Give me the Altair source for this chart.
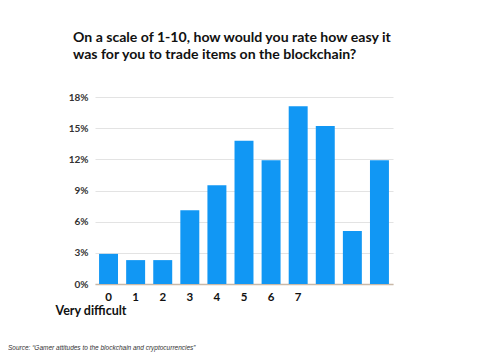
import altair as alt
import pandas as pd

ratings = [0, 1, 2, 3, 4, 5, 6, 7, 8, 9, 10]
shares = [2.9, 2.3, 2.3, 7.1, 9.5, 13.8, 11.9, 17.1, 15.2, 5.1, 11.9]
shown_labels = [0, 1, 2, 3, 4, 5, 6, 7]
y_ticks = [0, 3, 6, 9, 12, 15, 18]
title_lines = ["On a scale of 1-10, how would you rate how easy it",
               "was for you to trade items on the blockchain?"]
x_title = "Very difficult"
source_text = ["Source:  \u201cGamer attitudes to the blockchain and cryptocurrencies\u201d"]

df = pd.DataFrame({"rating": ratings, "share": shares})

bars = alt.Chart(df).mark_bar(color="#1197F4").encode(
    x=alt.X("rating:O", sort=ratings,
            scale=alt.Scale(paddingInner=0.3, paddingOuter=0.15),
            axis=alt.Axis(values=shown_labels, labelAngle=0, labelFont="Lato",
                          labelFontSize=11.5, labelFontWeight="bold", labelColor="#111",
                          labelPadding=7, ticks=False, domainColor="#c9b9a8",
                          domainWidth=1.5,
                          title=x_title, titleFont="Lato", titleFontSize=12.5,
                          titleFontWeight="bold", titleColor="#111",
                          titleAlign="left", titleAnchor="start", titleX=-40,
                          titleY=30, titleBaseline="alphabetic")),
    y=alt.Y("share:Q", scale=alt.Scale(domain=[0, 18]),
            axis=alt.Axis(values=y_ticks, labelExpr="datum.value + '%'",
                          labelFont="Lato", labelFontSize=10, labelFontWeight="bold",
                          labelColor="#333", labelPadding=7, ticks=False,
                          domain=False, gridColor="#e3e3e3", title=None)),
)

src = alt.Chart(pd.DataFrame({"t": source_text})).mark_text(
    align="left", baseline="alphabetic", font="Liberation Sans", fontSize=6.5,
    fontStyle="italic", color="#333"
).encode(text="t:N", x=alt.value(-87), y=alt.value(253))

chart = alt.layer(bars, src).properties(
    width=298, height=187,
    autosize=alt.AutoSizeParams(type="none"),
    padding={"left": 87, "top": 89, "right": 79, "bottom": 68},
    title=alt.TitleParams(title_lines, anchor="start", frame="group", dx=-22,
                          font="Lato", fontSize=14.1, fontWeight="bold",
                          color="#111", lineHeight=17, offset=30),
).configure_view(stroke=None)

chart.save("out.html", embed_options={"renderer": "svg", "actions": False})
